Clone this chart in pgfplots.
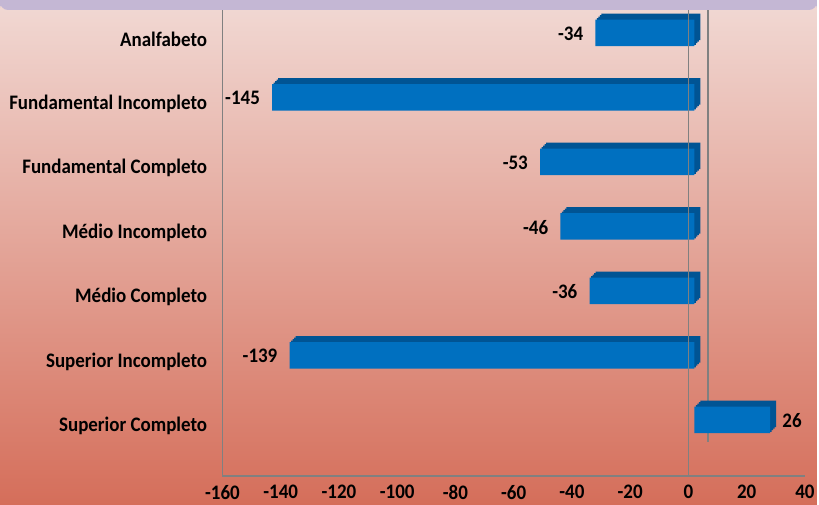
\documentclass[border=0pt]{standalone}
\usepackage{fontspec}
\setmainfont{Carlito}[FakeStretch=0.92]
\usepackage{pgfplots}
\pgfplotsset{compat=1.18}
\definecolor{bgtop}{RGB}{241,217,212}
\definecolor{bgmid}{RGB}{228,168,156}
\definecolor{bgbot}{RGB}{213,110,90}
\definecolor{band}{RGB}{196,183,212}
\definecolor{barfront}{RGB}{0,112,192}
\definecolor{barside}{RGB}{0,84,148}
\definecolor{axgray}{RGB}{128,128,128}
\begin{document}
\begin{tikzpicture}
\shade[top color=bgtop, middle color=bgmid, bottom color=bgbot] (0,0) rectangle (614.25pt,379.5pt);
\begin{axis}[
  at={(167.25pt,21.75pt)}, anchor=south west,
  scale only axis, width=438pt, height=351.75pt,
  xmin=-160, xmax=40, ymin=-0.866, ymax=6.387,
  axis lines=left, axis line style={-, axgray, line width=1.3pt},
  xtick={-160,-140,...,40},
  ytick={0,1,2,3,4,5,6},
  yticklabels={Superior Completo, Superior Incompleto, Médio Completo, Médio Incompleto, Fundamental Completo, Fundamental Incompleto, Analfabeto},
  major tick length=0pt,
  tick style={draw=none},
  /pgf/number format/assume math mode=true,
  ticklabel style={font=\bfseries\fontsize{15.5}{17}\selectfont, text=black},
  xticklabel style={yshift=-3.5pt},
  yticklabel style={xshift=-8pt, yshift=-4.5pt},
  clip=false,
]
\draw[axgray, line width=1.3pt] (axis cs:6.6,-0.34) -- (axis cs:6.6,6.387);
\addplot[xbar, bar shift=0pt, bar width=20pt, fill=barside, draw=none, xshift=9pt, yshift=4.5pt]
  coordinates {(-34,6) (-145,5) (-53,4) (-46,3) (-36,2) (-139,1) (26,0)};
\addplot[xbar, bar shift=0pt, bar width=20pt, fill=barside, draw=none, xshift=7.9pt, yshift=3.4pt]
  coordinates {(-34,6) (-145,5) (-53,4) (-46,3) (-36,2) (-139,1) (26,0)};
\addplot[xbar, bar shift=0pt, bar width=20pt, fill=barside, draw=none, xshift=6.75pt, yshift=2.25pt]
  coordinates {(-34,6) (-145,5) (-53,4) (-46,3) (-36,2) (-139,1) (26,0)};
\addplot[xbar, bar shift=0pt, bar width=20pt, fill=barside, draw=none, xshift=5.6pt, yshift=1.1pt]
  coordinates {(-34,6) (-145,5) (-53,4) (-46,3) (-36,2) (-139,1) (26,0)};
\addplot[xbar, bar shift=0pt, bar width=20pt, fill=barfront, draw=none, xshift=4.5pt,
  nodes near coords, nodes near coords align=horizontal,
  every node near coord/.append style={font=\bfseries\fontsize{15.5}{17}\selectfont, text=black, inner sep=9pt, yshift=-0.5pt},
  /pgf/number format/assume math mode=true]
  coordinates {(-34,6) (-145,5) (-53,4) (-46,3) (-36,2) (-139,1) (26,0)};
\draw[axgray, line width=1.3pt] (axis cs:0,-0.866) -- (axis cs:0,6.387);
\end{axis}
\fill[band, rounded corners=6pt] (0,379.5pt) -- (0,372pt) -- (614.25pt,372pt) -- (614.25pt,379.5pt) -- cycle;
\fill[band] (0,379.5pt) rectangle (614.25pt,375pt);
\end{tikzpicture}
\end{document}
